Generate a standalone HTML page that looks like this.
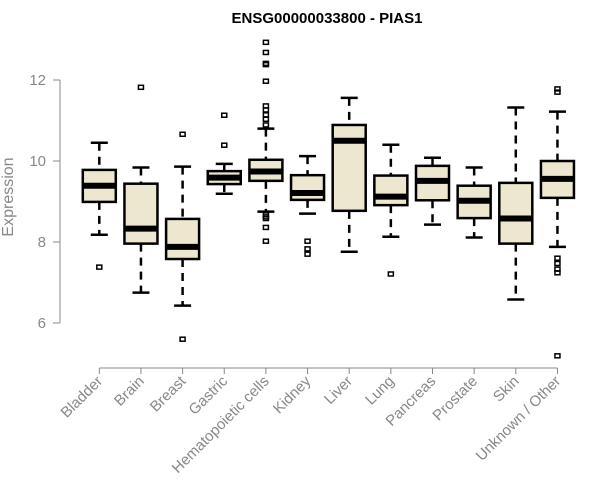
<!DOCTYPE html>
<html><head><meta charset="utf-8"><style>
html,body{margin:0;padding:0;background:#fff;}
svg{display:block;font-family:"Liberation Sans",Arial,sans-serif;}
</style></head><body>
<svg id="chart" width="600" height="500" viewBox="0 0 600 500">
<text x="327" y="23" text-anchor="middle" font-size="15" font-weight="bold" fill="#000">ENSG00000033800 - PIAS1</text>
<text transform="translate(13,197) rotate(-90)" text-anchor="middle" font-size="16" fill="#888">Expression</text>
<g id="yaxis"></g>
<g id="xaxis"></g>
<g id="boxes"></g>
</svg>
<script>
const categories = ["Bladder","Brain","Breast","Gastric","Hematopoietic cells","Kidney","Liver","Lung","Pancreas","Prostate","Skin","Unknown / Other"];
const whiskerLow = [8.18,6.75,6.43,9.19,8.75,8.70,7.76,8.13,8.43,8.11,6.58,7.88];
const q1 = [8.99,7.96,7.58,9.43,9.51,9.04,8.77,8.91,9.03,8.59,7.96,9.09];
const medians = [9.39,8.33,7.88,9.59,9.74,9.21,10.50,9.12,9.51,9.02,8.58,9.56];
const q3 = [9.78,9.44,8.57,9.75,10.03,9.65,10.89,9.64,9.88,9.39,9.46,10.00];
const whiskerHigh = [10.45,9.84,9.86,9.93,10.80,10.12,11.56,10.40,10.08,9.84,11.32,11.22];
const outliers = [
 [7.38],
 [11.82],
 [10.66,5.60],
 [11.13,10.39],
 [12.93,12.68,12.41,12.38,11.97,11.36,11.26,11.14,11.03,10.89,8.67,8.62,8.58,8.36,8.02],
 [8.02,7.83,7.70],
 [],
 [7.21],
 [],
 [],
 [],
 [11.78,11.70,7.60,7.47,7.33,7.24,5.19]
];
const yTicks = [6,8,10,12];

const NS="http://www.w3.org/2000/svg";
function yScale(v){return 323-(v-6)*40.5;}
function xScale(i){return 99.3+i*41.65;}
function mk(tag,attrs,parent){const e=document.createElementNS(NS,tag);for(const k in attrs)e.setAttribute(k,attrs[k]);parent.appendChild(e);return e;}

const ya=document.getElementById('yaxis');
let yl=mk('line',{x1:60,x2:60,y1:yScale(12),y2:yScale(6),stroke:'#888','stroke-width':1},ya);


yTicks.forEach(t=>{
 const tk=mk('line',{x1:53,x2:60,y1:yScale(t),y2:yScale(t),stroke:'#888'},ya);
 
 
 const tx=mk('text',{x:46,y:yScale(t)+5,'text-anchor':'end','font-size':15,fill:'#888'},ya);
 tx.textContent=t;
 
 
});

const xa=document.getElementById('xaxis');
const axY=368;
let xl=mk('line',{x1:xScale(0),x2:xScale(categories.length-1),y1:axY,y2:axY,stroke:'#888'},xa);


categories.forEach((c,i)=>{
 const x=xScale(i);
 const tk=mk('line',{x1:x,x2:x,y1:axY,y2:axY+6,stroke:'#888'},xa);
 
 
 const tx=mk('text',{transform:`translate(${x+4},${axY+14}) rotate(-45)`,'text-anchor':'end','font-size':15,fill:'#888'},xa);
 tx.textContent=c;
 
 
});

const bg=document.getElementById('boxes');
categories.forEach((c,i)=>{
 const x=xScale(i),hw=16.5,cw=8.5;
 const g=mk('g',{},bg);
 
 
 mk('line',{x1:x,x2:x,y1:yScale(whiskerHigh[i]),y2:yScale(q3[i]),stroke:'#000','stroke-width':2.5,'stroke-dasharray':'8,6'},g);
 mk('line',{x1:x,x2:x,y1:yScale(q1[i]),y2:yScale(whiskerLow[i]),stroke:'#000','stroke-width':2.5,'stroke-dasharray':'8,6'},g);
 mk('line',{x1:x-cw,x2:x+cw,y1:yScale(whiskerHigh[i]),y2:yScale(whiskerHigh[i]),stroke:'#000','stroke-width':2.5},g);
 mk('line',{x1:x-cw,x2:x+cw,y1:yScale(whiskerLow[i]),y2:yScale(whiskerLow[i]),stroke:'#000','stroke-width':2.5},g);
 mk('rect',{x:x-hw,y:yScale(q3[i]),width:hw*2,height:yScale(q1[i])-yScale(q3[i]),fill:'#ede7cf',stroke:'#000','stroke-width':2.5},g);
 mk('line',{x1:x-hw,x2:x+hw,y1:yScale(medians[i]),y2:yScale(medians[i]),stroke:'#000','stroke-width':6},g);
 outliers[i].forEach(v=>{
  const o=mk('rect',{x:x-2.5,y:yScale(v)-2,width:5,height:4,fill:'none',stroke:'#000','stroke-width':1.5},g);
  
  
 });
});
</script>
</body></html>
